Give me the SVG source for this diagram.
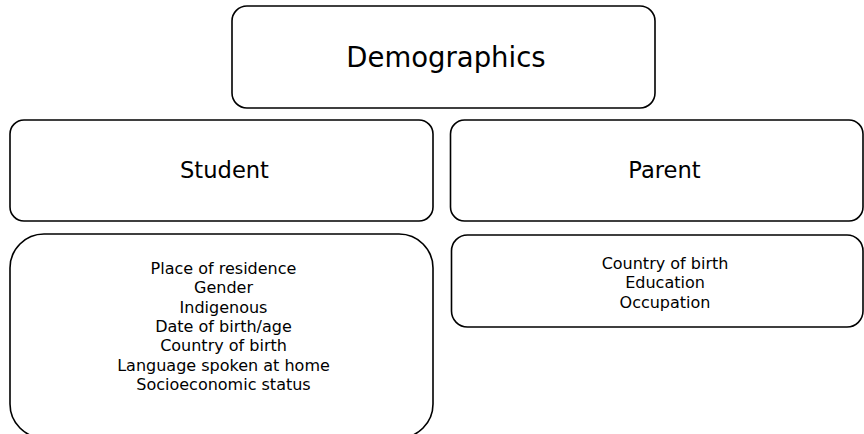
<svg xmlns="http://www.w3.org/2000/svg" width="864" height="434" viewBox="0 0 864 434">
<style>
.box{fill:#fff;stroke:#000;stroke-width:1.6}
text{font-family:"DejaVu Sans","Verdana",sans-serif;fill:#000;text-anchor:middle}
.t1{font-size:27.5px}
.t2{font-size:22.6px}
.t3{font-size:16px}
</style>
<rect width="864" height="434" fill="#fff"/>
<g id="connectors"></g>
<g id="demographics">
<rect class="box" x="232" y="6" width="423" height="102" rx="15" ry="15"/>
<text class="t1" x="446" y="67">Demographics</text>
</g>
<g id="student">
<rect class="box" x="10" y="120" width="423" height="101" rx="14" ry="14"/>
<text class="t2" x="224.5" y="178">Student</text>
</g>
<g id="parent">
<rect class="box" x="450.5" y="120" width="412.5" height="101" rx="14" ry="14"/>
<text class="t2" x="664.5" y="178">Parent</text>
</g>
<g id="student-details">
<rect class="box" x="10" y="234" width="423" height="204" rx="34" ry="34"/>
<text class="t3" x="223.5" y="274">Place of residence</text>
<text class="t3" x="223.5" y="293.3">Gender</text>
<text class="t3" x="223.5" y="312.6">Indigenous</text>
<text class="t3" x="223.5" y="331.9">Date of birth/age</text>
<text class="t3" x="223.5" y="351.2">Country of birth</text>
<text class="t3" x="223.5" y="370.5">Language spoken at home</text>
<text class="t3" x="223.5" y="389.8">Socioeconomic status</text>
</g>
<g id="parent-details">
<rect class="box" x="451.5" y="235" width="411.5" height="92" rx="16" ry="16"/>
<text class="t3" x="665" y="269">Country of birth</text>
<text class="t3" x="665" y="288.3">Education</text>
<text class="t3" x="665" y="307.6">Occupation</text>
</g>
</svg>
